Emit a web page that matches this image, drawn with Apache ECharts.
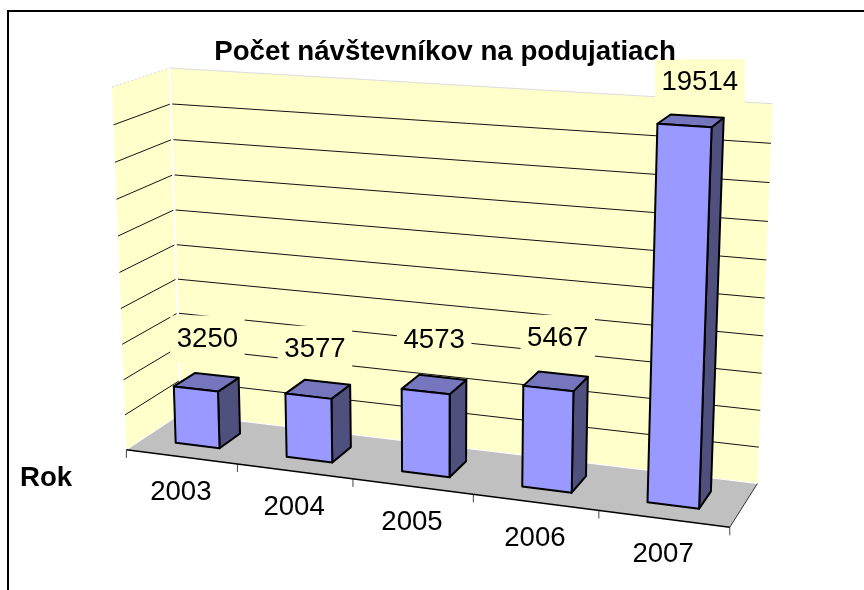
<!DOCTYPE html>
<html><head><meta charset="utf-8">
<style>html,body{margin:0;padding:0;background:#fff}#c{width:864px;height:590px}</style>
<script src="https://cdn.jsdelivr.net/npm/echarts@6/dist/echarts.min.js"></script>
</head><body><div id="c"></div>
<script>
const chartTitle = 'Počet návštevníkov na podujatiach';
const axisName = 'Rok';
const categories = ['2003', '2004', '2005', '2006', '2007'];
const visitors = [3250, 3577, 4573, 5467, 19514];
const gridTicks = [2000, 4000, 6000, 8000, 10000, 12000, 14000, 16000, 18000];
const axisMax = 20000;

// Perspective camera: fitted to the reference's wall / floor corners (unit cube -> screen)
const anchors = [
  [0,0,0,126.5,449.5],[1,0,0,730,527],[0,0,1,180.5,414],[1,0,1,757.7,482.7],
  [0,1,1,169,68],[1,1,1,772.7,104],[0,1,0,112,87],
  [.2,0,0,237,464],[.4,0,0,353.3,479.3],[.6,0,0,473.3,495],[.8,0,0,598,511],
  [0,.5,1,175.5,245],[1,.5,1,764.7,298],[0,.5,0,120,271.7]
];
function fitCamera(pts){
  const n=11, A=Array.from({length:n},()=>new Array(n+1).fill(0));
  const add=(r,b)=>{for(let i=0;i<n;i++){for(let j=0;j<n;j++)A[i][j]+=r[i]*r[j];A[i][n]+=r[i]*b;}};
  pts.forEach(([u,v,w,x,y])=>{
    add([u,v,w,1,0,0,0,0,-x*u,-x*v,-x*w],x);
    add([0,0,0,0,u,v,w,1,-y*u,-y*v,-y*w],y);
  });
  for(let i=0;i<n;i++){
    let p=i;for(let k=i+1;k<n;k++)if(Math.abs(A[k][i])>Math.abs(A[p][i]))p=k;
    [A[i],A[p]]=[A[p],A[i]];
    for(let k=0;k<n;k++){if(k===i)continue;const f=A[k][i]/A[i][i];for(let j=i;j<=n;j++)A[k][j]-=f*A[i][j];}
  }
  return A.map((r,i)=>r[n]/r[i]);
}
const P=fitCamera(anchors);
function proj(u,v,w){
  const d=P[8]*u+P[9]*v+P[10]*w+1;
  return [(P[0]*u+P[1]*v+P[2]*w+P[3])/d,(P[4]*u+P[5]*v+P[6]*w+P[7])/d];
}

const FONT='"Liberation Sans", Arial, sans-serif';
const FS=27.6;
const GAP=0.2;          // half bar width in slots (gap width 150%)
const D0=0.3, D1=0.7;   // bar depth range
const labelNudge=[[1,-43],[-3,-40],[0,-44],[2,-43],[9,-38]];
const poly=(pts,fill,stroke,lw,z2)=>({type:'polygon',shape:{points:pts},z2:z2||0,style:{fill:fill,stroke:stroke||null,lineWidth:lw||0,lineJoin:'round'}});
const line=(a,b,stroke,lw,dash)=>({type:'line',shape:{x1:a[0],y1:a[1],x2:b[0],y2:b[1]},style:{stroke:stroke,lineWidth:lw,lineDash:dash||null}});

function toCube(params,api,cat,val){
  const cs=params.coordSys, c=api.coord([cat,val]);
  return [(c[0]-cs.x)/cs.width,(cs.y+cs.height-c[1])/cs.height];
}

function renderWalls(){
  const c=[];
  c.push(poly([proj(0,0,0),proj(0,1,0),proj(0,1,1),proj(0,0,1)],'#FFFFCC'));
  c.push(poly([proj(0,0,1),proj(0,1,1),proj(1,1,1),proj(1,0,1)],'#FFFFCC'));
  c.push(poly([proj(0,0,0),proj(1,0,0),proj(1,0,1),proj(0,0,1)],'#C0C0C0'));
  c.push(line(proj(0,1,0),proj(0,1,1),'#d8d8d8',1,[2,2]));
  c.push(line(proj(0,1,1),proj(1,1,1),'#dcdcdc',1));
  c.push(line(proj(0,0,0),proj(0,0,1),'#ffffff',1));
  c.push(line(proj(0,0,1),proj(1,0,1),'#ffffff',1));
  c.push(line(proj(0,0,1),proj(0,1,1),'#ffffff',2));
  return {type:'group',silent:true,children:c};
}
function renderGrid(params,api){
  const v=toCube(params,api,0,api.value(1))[1];
  return {type:'group',silent:true,children:[
    line(proj(0,v,0),proj(0,v,0.985),'#111',1),
    line(proj(0.003,v,1),proj(1,v,1),'#111',1)
  ]};
}
function renderAxis(params,api){
  const i=api.value(0), n=categories.length, s=1/n;
  const c=[];
  const u0=i*s;
  c.push(line(proj(u0,0,0),[proj(u0,0,0)[0],proj(u0,0,0)[1]+8],'#444',1));
  if(i===n-1){
    c.push(line(proj(1,0,0),[proj(1,0,0)[0],proj(1,0,0)[1]+8],'#444',1));
    c.push(line(proj(1,0,0),proj(1,0,1),'#333',1));
    c.push(line(proj(0,0,0),proj(1,0,0),'#000',1.5));
  }
  const m=proj(toCube(params,api,i,0)[0],0,0);
  c.push({type:'text',style:{text:categories[i],x:m[0]-0.5,y:m[1]+36,align:'center',verticalAlign:'middle',font:FS+'px '+FONT,fill:'#000'}});
  return {type:'group',silent:true,children:c};
}
function renderBar(params,api){
  const i=api.value(0), val=api.value(1), n=categories.length;
  const [uc,v]=toCube(params,api,i,val);
  const a=uc-GAP/n, b=uc+GAP/n;
  const f=(u,vv,w)=>proj(u,vv,w);
  const st='#000', lw=2;
  const ch=[
    poly([f(b,0,D0),f(b,v,D0),f(b,v,D1),f(b,0,D1)],'#50507F',st,lw),
    poly([f(a,v,D0),f(b,v,D0),f(b,v,D1),f(a,v,D1)],'#7676BF',st,lw),
    poly([f(a,0,D0),f(b,0,D0),f(b,v,D0),f(a,v,D0)],'#9999FF',st,lw)
  ];
  return {type:'group',silent:true,children:ch};
}
function renderLabel(params,api){
  const i=api.value(0), val=api.value(1);
  const [uc,v]=toCube(params,api,i,val);
  const t=proj(uc,v,0.5), x=t[0]+labelNudge[i][0], y=t[1]+labelNudge[i][1];
  const txt=String(val), w=txt.length*15.35+13;
  return {type:'group',silent:true,children:[
    {type:'rect',shape:{x:x-w/2,y:y-23.5,width:w,height:47},style:{fill:'#FFFFCC'}},
    {type:'text',style:{text:txt,x:x,y:y,align:'center',verticalAlign:'middle',font:FS+'px '+FONT,fill:'#000'}}
  ]};
}

const chart=echarts.init(document.getElementById('c'),null,{renderer:'canvas'});
const idx=visitors.map((v,i)=>[i,v]);
chart.setOption({
  animation:false,
  backgroundColor:'#fff',
  title:{text:chartTitle,left:440,top:33,textAlign:'center',textStyle:{fontFamily:FONT,fontSize:27.7,fontWeight:'bold',color:'#000'}},
  grid:{left:0,right:0,top:0,bottom:0},
  xAxis:{type:'category',data:categories,show:false},
  yAxis:{type:'value',min:0,max:axisMax,interval:2000,show:false},
  graphic:[
    {type:'rect',silent:true,shape:{x:7,y:10,width:857,height:2},style:{fill:'#000'},z:100},
    {type:'rect',silent:true,shape:{x:7,y:10,width:2,height:580},style:{fill:'#000'},z:100},
    {type:'text',silent:true,style:{text:axisName,x:20,y:478,verticalAlign:'middle',font:'bold '+FS+'px '+FONT,fill:'#000'},z:100}
  ],
  series:[
    {type:'custom',z:1,clip:false,silent:true,renderItem:renderWalls,data:[[0,0]],encode:{x:0,y:1}},
    {type:'custom',z:2,clip:false,silent:true,renderItem:renderGrid,data:gridTicks.map(t=>[0,t]),encode:{x:0,y:1}},
    {type:'custom',z:3,clip:false,silent:true,renderItem:renderAxis,data:idx,encode:{x:0,y:1}},
    {type:'custom',z:4,clip:false,silent:true,renderItem:renderBar,data:idx,encode:{x:0,y:1}},
    {type:'custom',z:5,clip:false,silent:true,renderItem:renderLabel,data:idx,encode:{x:0,y:1}}
  ]
});
</script></body></html>
